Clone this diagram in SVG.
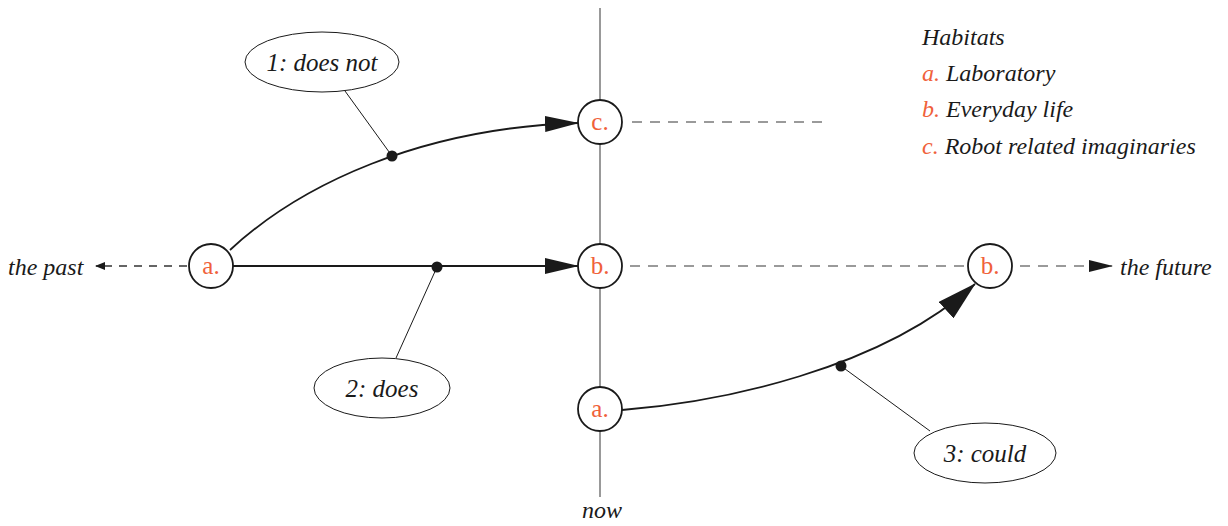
<svg xmlns="http://www.w3.org/2000/svg" width="1228" height="526" viewBox="0 0 1228 526" font-family="Liberation Serif, DejaVu Serif, serif">
  <style>
    .node circle { fill: #ffffff; stroke: #1a1a1a; stroke-width: 1.8; }
    .node text { font-size: 25px; fill: #f0613a; text-anchor: middle; }
    .label ellipse { fill: #ffffff; stroke: #1a1a1a; stroke-width: 1; }
    .label text { font-style: italic; font-size: 25px; fill: #1a1a1a; text-anchor: middle; }
    .it { font-style: italic; font-size: 24px; fill: #1a1a1a; }
    .flow { fill: none; stroke: #1a1a1a; stroke-width: 1.8; }
    .dash { fill: none; stroke: #7a7a7a; stroke-width: 1.4; stroke-dasharray: 10 8; }
    .dash-dark { fill: none; stroke: #333333; stroke-width: 1.3; stroke-dasharray: 8 7; }
    .lead { stroke: #1a1a1a; stroke-width: 1; }
    .dot { fill: #1a1a1a; }
    .orange { fill: #f0613a; }
  </style>
  <defs>
    <marker id="arrow" markerUnits="userSpaceOnUse" markerWidth="34" markerHeight="16" refX="33" refY="8" orient="auto">
      <path d="M0,0 L34,8 L0,16 Z" fill="#1a1a1a"/>
    </marker>
    <marker id="arrowBig" markerUnits="userSpaceOnUse" markerWidth="40" markerHeight="22" refX="39" refY="11" orient="auto">
      <path d="M0,0 L40,11 L0,22 Z" fill="#1a1a1a"/>
    </marker>
    <marker id="arrowSmall" markerUnits="userSpaceOnUse" markerWidth="24" markerHeight="12" refX="23" refY="6" orient="auto">
      <path d="M0,0 L24,6 L0,12 Z" fill="#1a1a1a"/>
    </marker>
    <marker id="tip" markerUnits="userSpaceOnUse" markerWidth="10" markerHeight="10" refX="9" refY="5" orient="auto">
      <path d="M0,1 L10,5 L0,9 Z" fill="#1a1a1a"/>
    </marker>
  </defs>

  <!-- timeline axis: now -->
  <line x1="600" y1="8" x2="600" y2="497" stroke="#6e6e6e" stroke-width="1.4"/>
  <text class="it" x="602" y="518" text-anchor="middle">now</text>

  <g id="connectors">
    <!-- dashed continuations -->
    <line class="dash-dark" x1="187" y1="266" x2="96" y2="266" marker-end="url(#tip)"/>
    <line class="dash" x1="632" y1="122" x2="826" y2="122"/>
    <line class="dash" x1="630" y1="266" x2="968" y2="266"/>
    <line class="dash" x1="1020" y1="266" x2="1112" y2="266" marker-end="url(#arrowSmall)"/>
    <!-- transitions -->
    <path class="flow" d="M230,250 C300,185 420,128 578,123" marker-end="url(#arrow)"/>
    <line class="flow" x1="233" y1="266" x2="578" y2="266" marker-end="url(#arrow)"/>
    <path class="flow" d="M622,410 C720,402 880,370 975,284" marker-end="url(#arrowBig)"/>
    <!-- callout leaders -->
    <line class="lead" x1="345" y1="91" x2="392" y2="156"/>
    <line class="lead" x1="396" y1="358" x2="437" y2="267"/>
    <line class="lead" x1="930" y1="431" x2="841" y2="366"/>
    <circle class="dot" cx="392" cy="156" r="5.5"/>
    <circle class="dot" cx="437" cy="267" r="5.5"/>
    <circle class="dot" cx="841" cy="366" r="5.5"/>
  </g>

  <g id="node-a-past" class="node"><circle cx="211" cy="266" r="22"/><text x="211" y="274">a.</text></g>
  <g id="node-c-now" class="node"><circle cx="600" cy="122" r="22"/><text x="600" y="130">c.</text></g>
  <g id="node-b-now" class="node"><circle cx="600" cy="266" r="22"/><text x="600" y="274">b.</text></g>
  <g id="node-a-now" class="node"><circle cx="600" cy="409" r="22"/><text x="600" y="417">a.</text></g>
  <g id="node-b-future" class="node"><circle cx="990" cy="266" r="22"/><text x="990" y="274">b.</text></g>

  <g id="label-1" class="label"><ellipse cx="322" cy="62" rx="77" ry="30"/><text x="322" y="71">1: does not</text></g>
  <g id="label-2" class="label"><ellipse cx="382" cy="388" rx="68" ry="30"/><text x="382" y="397">2: does</text></g>
  <g id="label-3" class="label"><ellipse cx="985" cy="453" rx="71" ry="30"/><text x="985" y="462">3: could</text></g>

  <text class="it" x="8" y="275">the past</text>
  <text class="it" x="1120" y="275">the future</text>

  <g id="legend" class="it">
    <text x="922" y="45">Habitats</text>
    <text x="922" y="81"><tspan class="orange">a.</tspan> Laboratory</text>
    <text x="922" y="117"><tspan class="orange">b.</tspan> Everyday life</text>
    <text x="922" y="154"><tspan class="orange">c.</tspan> Robot related imaginaries</text>
  </g>
</svg>
